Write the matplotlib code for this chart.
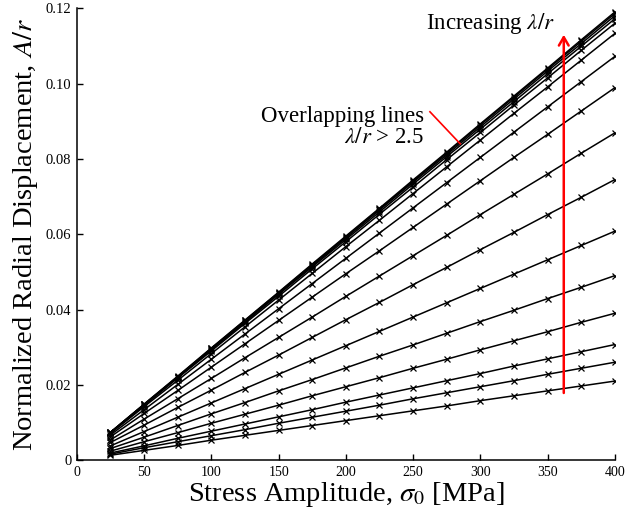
import matplotlib
matplotlib.use("Agg")
import matplotlib.pyplot as plt
from matplotlib.ticker import FuncFormatter

plt.rcParams['font.family'] = ['Liberation Serif', 'DejaVu Serif']
plt.rcParams['mathtext.fontset'] = 'stix'

stress = [25, 50, 75, 100, 125, 150, 175, 200, 225, 250, 275, 300, 325, 350, 375, 400]

line01 = [0.0013, 0.0026, 0.0039, 0.0053, 0.0066, 0.0079, 0.0092, 0.0105, 0.0118, 0.0131, 0.0144, 0.0158, 0.0171, 0.0184, 0.0197, 0.0210]
line02 = [0.0016, 0.0033, 0.0049, 0.0065, 0.0081, 0.0098, 0.0114, 0.0130, 0.0146, 0.0163, 0.0179, 0.0195, 0.0211, 0.0228, 0.0244, 0.0260]
line03 = [0.0019, 0.0038, 0.0058, 0.0077, 0.0096, 0.0115, 0.0134, 0.0154, 0.0173, 0.0192, 0.0211, 0.0230, 0.0250, 0.0269, 0.0288, 0.0307]
line04 = [0.0024, 0.0049, 0.0073, 0.0098, 0.0122, 0.0146, 0.0171, 0.0195, 0.0219, 0.0244, 0.0268, 0.0293, 0.0317, 0.0341, 0.0366, 0.0390]
line05 = [0.0031, 0.0061, 0.0092, 0.0123, 0.0153, 0.0184, 0.0214, 0.0245, 0.0276, 0.0306, 0.0337, 0.0368, 0.0398, 0.0429, 0.0459, 0.0490]
line06 = [0.0038, 0.0076, 0.0114, 0.0152, 0.0190, 0.0228, 0.0266, 0.0304, 0.0342, 0.0380, 0.0418, 0.0456, 0.0494, 0.0532, 0.0570, 0.0608]
line07 = [0.0047, 0.0093, 0.0140, 0.0186, 0.0233, 0.0279, 0.0326, 0.0373, 0.0419, 0.0466, 0.0512, 0.0559, 0.0605, 0.0652, 0.0698, 0.0745]
line08 = [0.0054, 0.0109, 0.0163, 0.0217, 0.0272, 0.0326, 0.0380, 0.0435, 0.0489, 0.0543, 0.0597, 0.0652, 0.0706, 0.0760, 0.0815, 0.0869]
line09 = [0.0062, 0.0124, 0.0185, 0.0247, 0.0309, 0.0371, 0.0433, 0.0495, 0.0556, 0.0618, 0.0680, 0.0742, 0.0804, 0.0865, 0.0927, 0.0989]
line10 = [0.0067, 0.0134, 0.0201, 0.0268, 0.0335, 0.0402, 0.0469, 0.0536, 0.0603, 0.0670, 0.0737, 0.0804, 0.0871, 0.0938, 0.1005, 0.1072]
line11 = [0.0071, 0.0142, 0.0212, 0.0283, 0.0354, 0.0425, 0.0496, 0.0567, 0.0637, 0.0708, 0.0779, 0.0850, 0.0921, 0.0991, 0.1062, 0.1133]
line12 = [0.0073, 0.0145, 0.0218, 0.0290, 0.0363, 0.0435, 0.0508, 0.0580, 0.0653, 0.0725, 0.0798, 0.0870, 0.0943, 0.1015, 0.1088, 0.1160]
line13 = [0.0073, 0.0147, 0.0220, 0.0293, 0.0366, 0.0440, 0.0513, 0.0586, 0.0659, 0.0733, 0.0806, 0.0879, 0.0952, 0.1026, 0.1099, 0.1172]
line14 = [0.0074, 0.0148, 0.0221, 0.0295, 0.0369, 0.0443, 0.0516, 0.0590, 0.0664, 0.0738, 0.0811, 0.0885, 0.0959, 0.1033, 0.1106, 0.1180]
line15 = [0.0074, 0.0148, 0.0222, 0.0297, 0.0371, 0.0445, 0.0519, 0.0593, 0.0667, 0.0741, 0.0815, 0.0890, 0.0964, 0.1038, 0.1112, 0.1186]
line16 = [0.0074, 0.0149, 0.0223, 0.0298, 0.0372, 0.0446, 0.0521, 0.0595, 0.0669, 0.0744, 0.0818, 0.0893, 0.0967, 0.1041, 0.1116, 0.1190]

series = [line01, line02, line03, line04, line05, line06, line07, line08,
          line09, line10, line11, line12, line13, line14, line15, line16]

x_ticks = [0, 50, 100, 150, 200, 250, 300, 350, 400]
y_ticks = [0, 0.02, 0.04, 0.06, 0.08, 0.10, 0.12]

fig = plt.figure(figsize=(6.30, 5.13), dpi=100)
ax = fig.add_axes([0.122, 0.103, 0.854, 0.881])

for s in series:
    ax.plot(stress, s, color='black', lw=1.1, marker='x', markersize=5,
            markeredgewidth=0.9)

ax.set_xlim(0, 400)
ax.set_ylim(0, 0.12)
ax.set_xticks(x_ticks)
ax.set_yticks(y_ticks)
ax.xaxis.set_major_formatter(FuncFormatter(lambda v, p: f"{v:g}"))
ax.yaxis.set_major_formatter(FuncFormatter(lambda v, p: "0" if v == 0 else f"{v:.2f}"))
ax.tick_params(direction='in', length=4, width=1)
ax.tick_params(axis='y', labelsize=10.5, pad=4)
ax.tick_params(axis='x', labelsize=10, pad=4)
for side in ['top', 'right']:
    ax.spines[side].set_visible(False)
for side in ['left', 'bottom']:
    ax.spines[side].set_linewidth(1.1)

ax.set_xlabel(r"Stress Amplitude, $\sigma_{\mathrm{0}}$ [MPa]", fontsize=20.5, labelpad=1)
ax.set_ylabel(r"Normalized Radial Displacement, $A/r$", fontsize=20.5, labelpad=4)

# red arrow: increasing lambda/r
ax.annotate("", xy=(362, 0.1137), xytext=(362, 0.0171),
            arrowprops=dict(arrowstyle='->,head_length=0.6,head_width=0.35',
                            color='red', lw=1.8))
ax.text(356, 0.1146, r"Increasing $\lambda/r$", fontsize=16.5, ha='right', va='baseline')

# overlapping lines annotation
ax.plot([262.5, 285], [0.0925, 0.0840], color='red', lw=1.2)
ax.text(258, 0.0841, "Overlapping lines\n" + r"$\lambda/r$ > 2.5", fontsize=16.5,
        ha='right', va='baseline', multialignment='right', linespacing=1.0)

fig.savefig("out.png", dpi=100)
